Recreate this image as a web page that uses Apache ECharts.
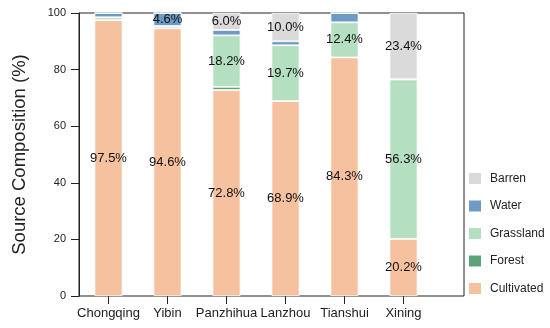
<!DOCTYPE html>
<html><head><meta charset="utf-8">
<script src="https://cdn.jsdelivr.net/npm/echarts@6/dist/echarts.min.js"></script>
<style>html,body{margin:0;padding:0;background:#fff}#c{width:550px;height:328px}</style>
</head><body><div id="c"></div>
<script>
const categories = ['Chongqing','Yibin','Panzhihua','Lanzhou','Tianshui','Xining'];
const cultivated = [97.5, 94.6, 72.8, 68.9, 84.3, 20.2];
const forest     = [0.0, 0.0, 1.1, 0.0, 0.0, 0.0];
const grassland  = [1.0, 0.8, 18.2, 19.7, 12.4, 56.3];
const water      = [1.5, 4.6, 1.9, 1.4, 3.3, 0.1];
const barren     = [0.0, 0.0, 6.0, 10.0, 0.0, 23.4];
const yTicks = [0, 20, 40, 60, 80, 100];
const labelThreshold = 4;

const names = ['Cultivated','Forest','Grassland','Water','Barren'];
const values = [cultivated, forest, grassland, water, barren];
const colors = ['#F5C19E','#5BA47A','#B5DFC1','#6D9BC6','#DADADA'];

const font = 'Liberation Sans, Arial, sans-serif';
const series = names.map((n, si) => ({
  name: n, type: 'bar', stack: 'total', barWidth: 28,
  xAxisIndex: 0, yAxisIndex: 0,
  itemStyle: { color: colors[si], borderColor: '#fff', borderWidth: 0.8 },
  label: {
    show: true, position: 'inside', color: '#111', fontFamily: font, fontSize: 13,
    formatter: p => p.value >= labelThreshold ? p.value.toFixed(1) + '%' : ''
  },
  data: values[si]
}));

const chart = echarts.init(document.getElementById('c'));
chart.setOption({
  animation: false,
  grid: [
    { left: 79, top: 13, width: 354, bottom: 32 },
    { left: 79, top: 13, right: 86, bottom: 32, show: true, borderColor: '#222', borderWidth: 1 }
  ],
  legend: {
    orient: 'vertical', left: 462, top: 166, itemWidth: 14, itemHeight: 13, itemGap: 12.5,
    data: ['Barren','Water','Grassland','Forest','Cultivated'],
    textStyle: { fontFamily: font, fontSize: 12, color: '#222', padding: [0, 0, 0, 3] }, icon: 'rect'
  },
  xAxis: [{
    type: 'category', data: categories, gridIndex: 0,
    axisLine: { show: false },
    axisTick: { show: true, alignWithLabel: true, length: 8, lineStyle: { color: '#222' } },
    axisLabel: { fontFamily: font, fontSize: 13, color: '#222', margin: 11, interval: 0 }
  }, {
    type: 'value', gridIndex: 1, show: false
  }],
  yAxis: [{
    type: 'value', min: 0, max: 100, interval: 20, gridIndex: 0,
    name: 'Source Composition (%)', nameLocation: 'middle', nameGap: 50,
    nameTextStyle: { fontFamily: font, fontSize: 18.5, color: '#222' },
    splitLine: { show: false },
    axisLine: { show: true, lineStyle: { color: '#222', width: 1 } },
    axisTick: { show: true, length: 8, lineStyle: { color: '#222' } },
    axisLabel: { fontFamily: font, fontSize: 11, color: '#222', margin: 13,
      formatter: v => yTicks.includes(v) ? String(v) : '' }
  }, {
    type: 'value', gridIndex: 1, show: false
  }],
  series: series
});
</script></body></html>
